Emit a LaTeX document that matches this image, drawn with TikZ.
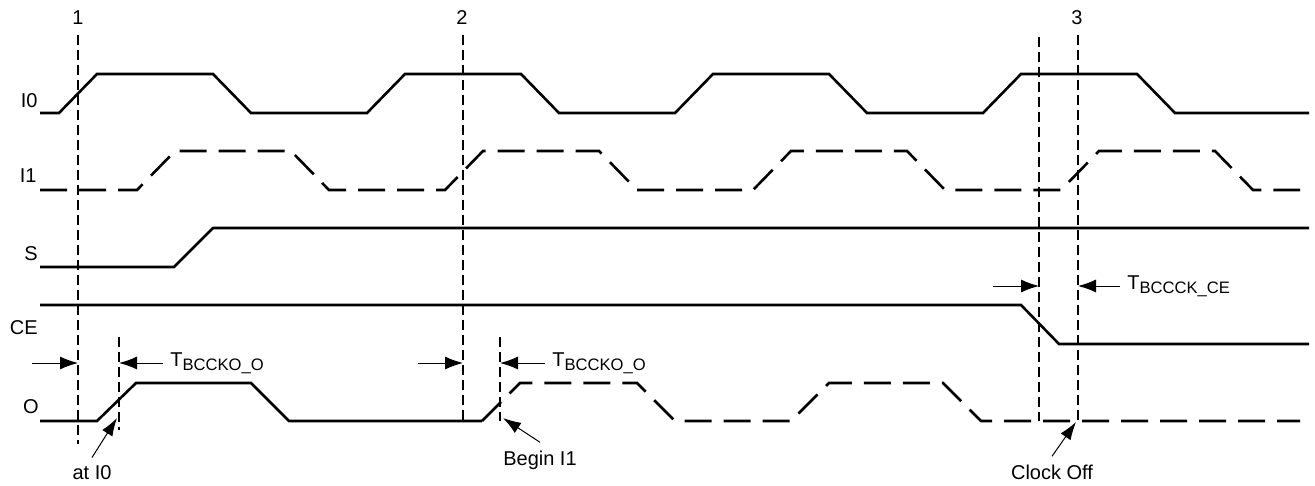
\documentclass[tikz,border=0pt]{standalone}
\usepackage{fontspec}
\setmainfont{Liberation Sans}
\usetikzlibrary{arrows.meta}
\newcommand{\tname}[2]{#1{\fontsize{8.3}{9}\selectfont\raisebox{-2pt}{#2}}}
\begin{document}
\begin{tikzpicture}
    [%%%%%%%%%%%%%%%%%%%%%%%%%%%%%%
        x=0.5pt, y=-0.5pt,
        font=\fontsize{10}{12}\selectfont,
        wave/.style={line width=1.3pt, line join=miter},
        dwave/.style={wave, dash pattern=on 13.5pt off 6pt},
        marker/.style={line width=0.6pt, dash pattern=on 5pt off 2.5pt},
        timing/.style={line width=0.5pt, -{Latex[length=9pt,width=6.5pt]}},
        callout/.style={line width=0.5pt, -{Latex[length=9pt,width=6pt]}},
        sig/.style={anchor=base east, inner sep=0pt},
        num/.style={anchor=base, inner sep=0pt},
        tlabel/.style={anchor=west, inner xsep=3.5pt, inner ysep=0pt},
        note/.style={inner sep=4pt},
    ]%%%%%%%%%%%%%%%%%%%%%%%%%%%%%%
\useasboundingbox (0,0) rectangle (1315,486);
\node[sig] (lI0) at (38,108) {I0};
\node[sig] (lI1) at (37,183) {I1};
\node[sig] (lS) at (38,260) {S};
\node[sig] (lCE) at (38,334) {CE};
\node[sig] (lO) at (39,413) {O};
\node[num] (n1) at (78,25) {1};
\node[num] (n2) at (462,25) {2};
\node[num] (n3) at (1077,25) {3};
\draw[wave] (40,113) foreach \k in {0,...,3} {
    -- ({59+308*\k},113) -- ({97+308*\k},74) -- ({213+308*\k},74) -- ({251+308*\k},113)} -- (1309,113);
\draw[dwave] (40,190) foreach \k in {0,...,3} {
    -- ({137+308*\k},190) -- ({175+308*\k},151) -- ({291+308*\k},151) -- ({329+308*\k},190)} -- (1300,190);
\draw[wave] (40,267) -- (174,267) -- (213,228) -- (1309,228);
\draw[wave] (40,305) -- (1021,305) -- (1059,344) -- (1309,344);
\draw[wave] (40,421) -- (97,421) -- (136,383) -- (251,383) -- (289,421) -- (482,421);
\draw[dwave] (482,421) -- (520,383) -- (637,383) -- (675,421) -- (791,421) -- (829,383) -- (943,383) -- (981,421) -- (1300,421);
\coordinate (m1) at (78,35);
\coordinate (m2) at (463,35);
\coordinate (m3) at (1078,35);
\coordinate (mce) at (1039,37);
\coordinate (mo1) at (119,337);
\coordinate (mo2) at (500,337);
\draw[marker] (m1) -- (78,444);
\draw[marker] (m2) -- (463,421);
\draw[marker] (m3) -- (1078,421);
\draw[marker] (mce) -- (1039,421);
\draw[marker] (mo1) -- (119,430);
\draw[marker] (mo2) -- (500,421);
\coordinate (in1) at (32,363);
\coordinate (in2) at (418,363);
\coordinate (in3) at (993,286);
\draw[timing] (in1) -- (in1 -| m1);
\draw[timing] (in2) -- (in2 -| m2);
\draw[timing] (in3) -- (in3 -| mce);
\node[tlabel] (tko1) at (163,363) {\tname{T}{BCCKO\_O}};
\node[tlabel] (tko2) at (545,363) {\tname{T}{BCCKO\_O}};
\node[tlabel] (tck) at (1120,286) {\tname{T}{BCCCK\_CE}};
\draw[timing] (tko1.west) -- (tko1.west -| mo1);
\draw[timing] (tko2.west) -- (tko2.west -| mo2);
\draw[timing] (tck.west) -- (tck.west -| m3);
\coordinate (p0) at (117,418);
\coordinate (p1) at (503,418);
\coordinate (p2) at (1076,422);
\node[note] (at0) at (92,473) {at I0};
\node[note] (beg1) at (540,460) {Begin I1};
\node[note] (coff) at (1052,472) {Clock Off};
\draw[callout] (at0.north) -- (p0);
\draw[callout] (beg1.north) -- (p1);
\draw[callout] (coff.north) -- (p2);
\end{tikzpicture}
\end{document}
